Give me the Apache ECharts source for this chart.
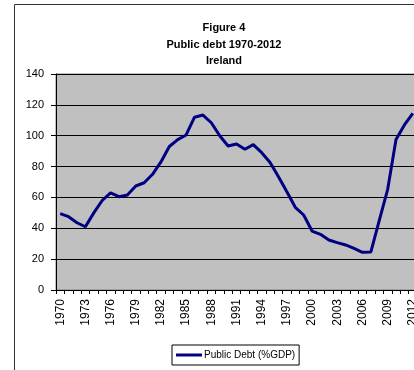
<!DOCTYPE html>
<html>
<head>
<meta charset="utf-8">
<script src="https://cdn.jsdelivr.net/npm/echarts@6/dist/echarts.min.js"></script>
<style>
  html, body { margin: 0; padding: 0; background: #ffffff; overflow: hidden; }
  /* canvas is slightly wider than the window so the plot runs off the right edge */
  #chart { width: 430px; height: 370px; }
</style>
</head>
<body>
<div id="chart"></div>
<script>
// Years on the category axis
const years = [];
for (let y = 1970; y <= 2012; y++) years.push(String(y));

// Gross public debt, % of GDP
const publicDebt = [
  49.5, 47.5, 43.6, 41.0, 50.0, 58.0, 63.0, 60.5, 61.6, 67.4,
  69.5, 75.0, 83.0, 93.0, 97.5, 100.5, 112.0, 113.4, 108.4, 100.0,
  93.3, 94.6, 91.2, 94.2, 89.0, 82.7, 73.4, 63.7, 53.6, 48.6,
  38.2, 36.1, 32.4, 30.7, 29.2, 27.0, 24.4, 24.6, 45.0, 65.0,
  97.6, 107.0, 114.5
];

const titleLines = ['Figure 4', 'Public debt 1970-2012', 'Ireland'];
const seriesName = 'Public Debt (%GDP)';

const font = '"Liberation Sans", Arial, sans-serif';
const chart = echarts.init(document.getElementById('chart'), null, { renderer: 'canvas' });

chart.setOption({
  animation: false,
  backgroundColor: '#ffffff',
  graphic: [{
    type: 'rect',
    shape: { x: 14.5, y: 4.5, width: 500, height: 400 },
    style: { fill: 'none', stroke: '#333333', lineWidth: 1 },
    silent: true,
    z: 0
  }],
  title: {
    text: titleLines.join('\n'),
    left: 219,
    top: 15,
    textAlign: 'center',
    textStyle: {
      fontFamily: font,
      fontSize: 11,
      fontWeight: 'bold',
      color: '#000000',
      lineHeight: 16.5
    }
  },
  legend: {
    data: [seriesName],
    left: 172,
    top: 345,
    padding: [5, 4, 5, 4],
    borderColor: '#000000',
    borderWidth: 1,
    backgroundColor: '#ffffff',
    icon: 'rect',
    itemWidth: 26,
    itemHeight: 3,
    textStyle: { fontFamily: font, fontSize: 10, color: '#000000', padding: [0, 0, 0, -3] }
  },
  grid: {
    left: 56,
    top: 74,
    width: 361,
    height: 216,
    show: true,
    backgroundColor: '#C0C0C0',
    borderColor: '#808080',
    borderWidth: 1
  },
  xAxis: {
    type: 'category',
    data: years,
    boundaryGap: true,
    axisLine: { show: true, lineStyle: { color: '#000000', width: 1 } },
    axisTick: { show: true, interval: 0, length: 4, lineStyle: { color: '#000000' } },
    axisLabel: {
      interval: 2,
      rotate: 90,
      margin: 9,
      fontFamily: font,
      fontSize: 12,
      color: '#000000'
    },
    splitLine: { show: false }
  },
  yAxis: {
    type: 'value',
    min: 0,
    max: 140,
    interval: 20,
    axisLine: { show: true, lineStyle: { color: '#000000', width: 1 } },
    axisTick: { show: true, length: 5, lineStyle: { color: '#000000' } },
    axisLabel: {
      margin: 12,
      fontFamily: font,
      fontSize: 11,
      color: '#000000'
    },
    splitLine: { show: true, lineStyle: { color: '#000000', width: 1 } }
  },
  series: [{
    name: seriesName,
    type: 'line',
    data: publicDebt,
    symbol: 'none',
    lineStyle: { color: '#000080', width: 3 },
    itemStyle: { color: '#000080' }
  }]
});
</script>
</body>
</html>
